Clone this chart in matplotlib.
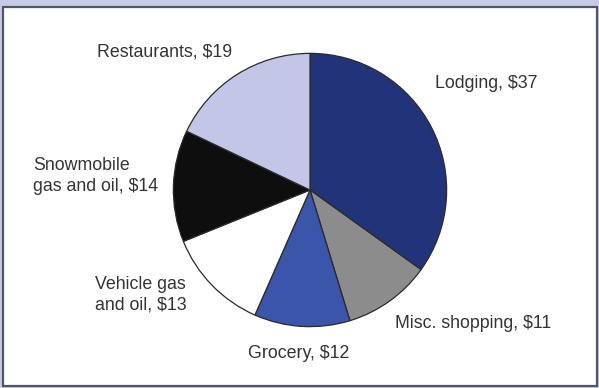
import matplotlib.pyplot as plt
from matplotlib.patches import Rectangle

# spending per visitor-day, dollars
categories = ['Lodging', 'Misc. shopping', 'Grocery', 'Vehicle gas\nand oil',
              'Snowmobile\ngas and oil', 'Restaurants']
values = [37, 11, 12, 13, 14, 19]
colors = ['#22337a', '#8c8c8c', '#3a55aa', '#ffffff', '#0e0e0e', '#c3c6e6']

# label anchors in pixels from top-left (x, y, horizontal alignment)
label_pos = [(435, 84, 'left'), (395, 324, 'left'), (248, 353, 'left'),
             (95, 295, 'left'), (33, 176, 'left'), (97, 52, 'left')]

W, H = 599, 388
plt.rcParams['font.family'] = ['Liberation Sans', 'DejaVu Sans']

fig = plt.figure(figsize=(W / 100, H / 100), dpi=100)
fig.patch.set_facecolor('#c8cbe7')

# white inner panel with a dark outline, kept underneath the pie
fig.patches.append(Rectangle((3 / W, 2 / H), 594 / W, 379 / H,
                             transform=fig.transFigure, facecolor='white',
                             edgecolor='#555560', linewidth=1.6, zorder=-5))

cx, cy, r = 310, 190, 138
ax = fig.add_axes([(cx - r) / W, (H - cy - r) / H, 2 * r / W, 2 * r / H])
ax.pie(values, colors=colors, startangle=90, counterclock=False,
       wedgeprops=dict(edgecolor='#2a2a2a', linewidth=0.9))
ax.set_xlim(-1.01, 1.01)
ax.set_ylim(-1.01, 1.01)
ax.set_aspect('equal')
ax.axis('off')

for name, val, (x, y, ha) in zip(categories, values, label_pos):
    fig.text(x / W, 1 - y / H, f'{name}, ${val}', ha=ha, va='center',
             fontsize=12.8, color='#333333', linespacing=1.3)

fig.savefig('out.png', dpi=100, facecolor=fig.get_facecolor())
